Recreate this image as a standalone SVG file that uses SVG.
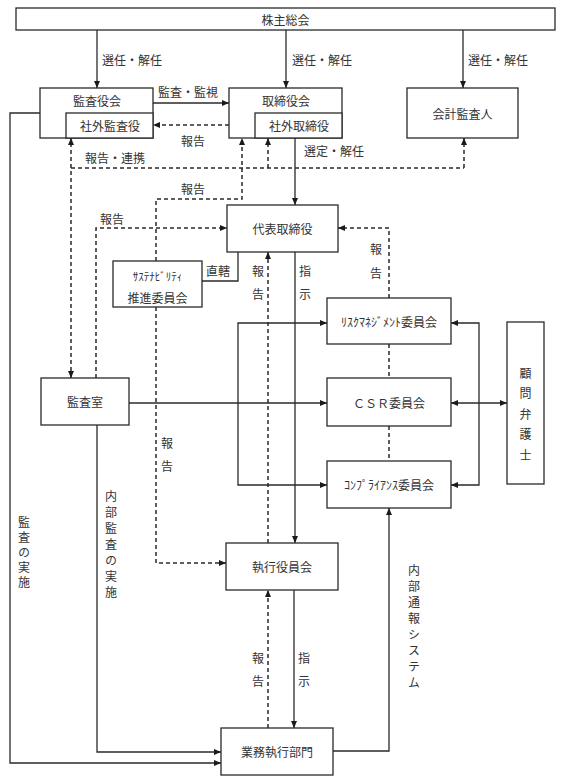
<svg xmlns="http://www.w3.org/2000/svg" width="562" height="782" viewBox="0 0 562 782">
<style>
.box{fill:#fff;stroke:#2a2a2a;stroke-width:1.3}
.t{font-family:"Noto Sans CJK JP","Noto Sans CJK SC",sans-serif;font-size:12px;fill:#333;text-anchor:middle;dominant-baseline:central}
.ls{text-anchor:start}
.hw{font-size:11px}
.v{font-family:"Noto Sans CJK JP","Noto Sans CJK SC",sans-serif;font-size:12px;fill:#333;writing-mode:vertical-rl;text-anchor:start}
.s{fill:none;stroke:#2a2a2a;stroke-width:1.3}
.d{fill:none;stroke:#2a2a2a;stroke-width:1.5;stroke-dasharray:4 3}
</style>
<defs>
<marker id="a" viewBox="0 0 7 6" refX="7" refY="3" markerWidth="7" markerHeight="6" markerUnits="userSpaceOnUse" orient="auto-start-reverse">
<path d="M0,0 L7,3 L0,6 z" fill="#1a1a1a"/>
</marker>
</defs>
<rect width="562" height="782" fill="#fff"/>

<g id="connectors">
<path class="s" d="M97,30 V88" marker-end="url(#a)"/>
<path class="s" d="M286,30 V88" marker-end="url(#a)"/>
<path class="s" d="M463,30 V88" marker-end="url(#a)"/>
<path class="s" d="M153,103 H229" marker-end="url(#a)"/>
<path class="d" d="M229,125 H153" marker-end="url(#a)"/>
<path class="d" d="M71,168 H464"/>
<path class="d" d="M71,378 V138" marker-start="url(#a)" marker-end="url(#a)"/>
<path class="d" d="M268,168 V138" marker-end="url(#a)"/>
<path class="d" d="M464,168 V138" marker-end="url(#a)"/>
<path class="d" d="M156,261 V199 H242 V138" marker-end="url(#a)"/>
<path class="d" d="M156,307 V563 H226" marker-end="url(#a)"/>
<path class="d" d="M96,378 V228 H227" marker-end="url(#a)"/>
<path class="s" d="M295,138 V205" marker-end="url(#a)"/>
<path class="s" d="M202,281 H238 V252"/>
<path class="d" d="M268,543 V252" marker-end="url(#a)"/>
<path class="s" d="M295,252 V543" marker-end="url(#a)"/>
<path class="d" d="M389,298 V228 H338" marker-end="url(#a)"/>
<path class="d" d="M389,344 V378"/>
<path class="d" d="M389,426 V461"/>
<path class="s" d="M327,323 H238 V485 H327" marker-start="url(#a)" marker-end="url(#a)"/>
<path class="s" d="M129,403 H327" marker-end="url(#a)"/>
<path class="s" d="M451,323 H479 V485 H451" marker-start="url(#a)" marker-end="url(#a)"/>
<path class="s" d="M451,403 H507" marker-start="url(#a)" marker-end="url(#a)"/>
<path class="s" d="M333,751 H389 V508" marker-end="url(#a)"/>
<path class="s" d="M97,425 V752 H221" marker-end="url(#a)"/>
<path class="s" d="M40,113 H10 V763 H221" marker-end="url(#a)"/>
<path class="d" d="M268,728 V590" marker-end="url(#a)"/>
<path class="s" d="M294,590 V728" marker-end="url(#a)"/>
</g>

<g id="labels">
<text class="t ls" x="102" y="59">選任・解任</text>
<text class="t ls" x="292" y="59">選任・解任</text>
<text class="t ls" x="468" y="59">選任・解任</text>
<text class="t ls" x="158" y="91">監査・監視</text>
<text class="t" x="193" y="140">報告</text>
<text class="t ls" x="85" y="157">報告・連携</text>
<text class="t ls" x="304" y="150">選定・解任</text>
<text class="t" x="193" y="188">報告</text>
<text class="t" x="112" y="218">報告</text>
<text class="t" x="218" y="270">直轄</text>
<text class="t" x="258" y="270">報</text><text class="t" x="258" y="293">告</text>
<text class="t" x="305" y="270">指</text><text class="t" x="305" y="293">示</text>
<text class="t" x="376" y="248">報</text><text class="t" x="376" y="272">告</text>
<text class="t" x="167" y="442">報</text><text class="t" x="167" y="465">告</text>
<text class="t" x="258" y="657">報</text><text class="t" x="258" y="680">告</text>
<text class="t" x="304" y="657">指</text><text class="t" x="304" y="680">示</text>
<text class="v" x="24" y="516" letter-spacing="3">監査の実施</text>
<text class="v" x="111" y="490" letter-spacing="4">内部監査の実施</text>
<text class="v" x="414" y="564" letter-spacing="4">内部通報システム</text>
</g>

<g id="n-shareholders">
<rect class="box" x="16" y="8" width="539" height="22"/>
<text class="t" x="285.5" y="19">株主総会</text>
</g>
<g id="n-kansayakukai">
<rect class="box" x="40" y="88" width="113" height="50"/>
<rect class="box" x="66" y="113" width="87" height="25"/>
<text class="t" x="97" y="100.5">監査役会</text>
<text class="t" x="110" y="125.5">社外監査役</text>
</g>
<g id="n-torishimariyakukai">
<rect class="box" x="229" y="88" width="113" height="50"/>
<rect class="box" x="255" y="113" width="87" height="25"/>
<text class="t" x="286" y="100.5">取締役会</text>
<text class="t" x="299" y="125.5">社外取締役</text>
</g>
<g id="n-auditor">
<rect class="box" x="407" y="88" width="111" height="50"/>
<text class="t" x="462.5" y="113">会計監査人</text>
</g>
<g id="n-ceo">
<rect class="box" x="227" y="205" width="111" height="47"/>
<text class="t" x="282.5" y="228.5">代表取締役</text>
</g>
<g id="n-sustainability">
<rect class="box" x="113" y="261" width="89" height="46"/>
<text class="t hw" x="157.5" y="276">ｻｽﾃﾅﾋﾞﾘﾃｨ</text>
<text class="t" x="157.5" y="297">推進委員会</text>
</g>
<g id="n-risk">
<rect class="box" x="327" y="298" width="124" height="46"/>
<text class="t" x="389" y="321">ﾘｽｸﾏﾈｼﾞﾒﾝﾄ委員会</text>
</g>
<g id="n-csr">
<rect class="box" x="327" y="378" width="124" height="48"/>
<text class="t" x="389" y="402">ＣＳＲ委員会</text>
</g>
<g id="n-compliance">
<rect class="box" x="327" y="461" width="124" height="47"/>
<text class="t" x="389" y="484.5">ｺﾝﾌﾟﾗｲｱﾝｽ委員会</text>
</g>
<g id="n-lawyer">
<rect class="box" x="507" y="322" width="37" height="162"/>
<text class="v" x="525.5" y="367" letter-spacing="8.5">顧問弁護士</text>
</g>
<g id="n-auditroom">
<rect class="box" x="41" y="378" width="88" height="47"/>
<text class="t" x="85" y="401.5">監査室</text>
</g>
<g id="n-executive">
<rect class="box" x="226" y="543" width="112" height="47"/>
<text class="t" x="282" y="566.5">執行役員会</text>
</g>
<g id="n-operations">
<rect class="box" x="221" y="728" width="112" height="47"/>
<text class="t" x="277" y="751.5">業務執行部門</text>
</g>
</svg>
